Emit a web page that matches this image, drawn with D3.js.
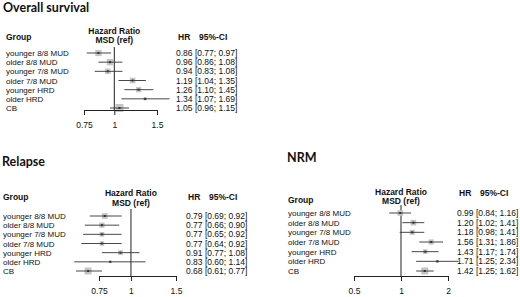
<!DOCTYPE html>
<html>
<head>
<meta charset="utf-8">
<script src="https://cdn.jsdelivr.net/npm/d3@7"></script>
<style>
  body { margin: 0; background: #fff; }
  svg text { font-family: "Liberation Sans", Arial, sans-serif; fill: #111; }
  .ttl { font-family: Lato, "Open Sans", sans-serif; font-weight: bold; }
  .hdr { font-weight: bold; }
</style>
</head>
<body>
<svg id="chart" width="520" height="297"></svg>
<script>
var groups = ["younger 8/8 MUD", "older 8/8 MUD", "younger 7/8 MUD", "older 7/8 MUD", "younger HRD", "older HRD", "CB"];

// hazard ratios with 95% CI
var os_hr = [0.86, 0.96, 0.94, 1.19, 1.26, 1.34, 1.05];
var os_lo = [0.77, 0.86, 0.83, 1.04, 1.10, 1.07, 0.96];
var os_hi = [0.97, 1.08, 1.08, 1.35, 1.45, 1.69, 1.15];

var rel_hr = [0.79, 0.77, 0.77, 0.77, 0.91, 0.83, 0.68];
var rel_lo = [0.69, 0.66, 0.65, 0.64, 0.77, 0.60, 0.61];
var rel_hi = [0.92, 0.90, 0.92, 0.92, 1.08, 1.14, 0.77];

var nrm_hr = [0.99, 1.20, 1.18, 1.56, 1.43, 1.71, 1.42];
var nrm_lo = [0.84, 1.02, 0.98, 1.31, 1.17, 1.25, 1.25];
var nrm_hi = [1.16, 1.41, 1.41, 1.86, 1.74, 2.34, 1.62];

var os_ticks = [0.75, 1, 1.5];
var rel_ticks = [0.75, 1, 1.5];
var nrm_ticks = [0.5, 1, 2];

var svg = d3.select("#chart");
var f2 = d3.format(".2f");

function forest(cfg) {
	var g = svg.append("g");
	var data = groups.map(function(name, i) {
		return {name: name, hr: cfg.hr[i], lo: cfg.lo[i], hi: cfg.hi[i]};
	});

	var x = d3.scaleLog()
		.domain([cfg.ticks[0], cfg.ticks[cfg.ticks.length - 1]])
		.range([cfg.x0, cfg.x1]);

	var y = d3.scalePoint()
		.domain(groups)
		.range([cfg.yTop, cfg.yBot]);

	// box side ~ precision (1 / width of log CI)
	var prec = data.map(d => 1 / (Math.log(d.hi) - Math.log(d.lo)));
	var box = d3.scaleLinear().domain([0, d3.max(prec)]).range([0, cfg.boxMax]);

	g.append("text").attr("class", "ttl")
		.attr("x", cfg.titleX).attr("y", cfg.titleY)
		.style("font-size", "12.5px")
		.text(cfg.title);

	g.append("text").attr("class", "hdr")
		.attr("x", cfg.labX).attr("y", cfg.hdrY)
		.style("font-size", "8.5px").text("Group");

	g.append("text").attr("class", "hdr")
		.attr("x", x(1)).attr("y", cfg.hrTitleY)
		.attr("text-anchor", "middle")
		.style("font-size", "8.5px").text("Hazard Ratio");
	g.append("text").attr("class", "hdr")
		.attr("x", x(1)).attr("y", cfg.hrTitleY + cfg.hrGap)
		.attr("text-anchor", "middle")
		.style("font-size", "8.5px").text("MSD (ref)");

	g.append("text").attr("class", "hdr")
		.attr("x", cfg.valX + 2).attr("y", cfg.valHdrY)
		.style("font-size", "8.5px").text("HR");
	g.append("text").attr("class", "hdr")
		.attr("x", cfg.valX + 23).attr("y", cfg.valHdrY)
		.style("font-size", "8.5px").text("95%-CI");

	// reference line at HR = 1
	g.append("line")
		.attr("x1", x(1)).attr("x2", x(1))
		.attr("y1", cfg.refTop).attr("y2", cfg.axisY)
		.attr("stroke", "#222").attr("stroke-width", 1);

	var rows = g.selectAll(".row").data(data).enter().append("g").attr("class", "row");

	rows.append("text")
		.attr("x", cfg.labX).attr("y", d => y(d.name) + 3)
		.style("font-size", "8px")
		.text(d => d.name);

	rows.append("rect")
		.attr("x", (d, i) => x(d.hr) - box(prec[i]) / 2)
		.attr("y", (d, i) => y(d.name) - box(prec[i]) / 2)
		.attr("width", (d, i) => box(prec[i]))
		.attr("height", (d, i) => box(prec[i]))
		.attr("fill", "#c4c4c4");

	rows.append("line")
		.attr("x1", d => x(d.lo)).attr("x2", d => x(d.hi))
		.attr("y1", d => y(d.name)).attr("y2", d => y(d.name))
		.attr("stroke", "#333").attr("stroke-width", 0.9);

	rows.append("rect")
		.attr("x", d => x(d.hr) - 1).attr("y", d => y(d.name) - 1)
		.attr("width", 2).attr("height", 2)
		.attr("fill", "#333");

	rows.append("text")
		.attr("x", cfg.valX).attr("y", d => y(d.name) + 3)
		.style("font-size", "8.5px")
		.text(d => f2(d.hr) + " [" + f2(d.lo) + "; " + f2(d.hi) + "]");

	var axis = g.append("g")
		.attr("transform", "translate(0," + cfg.axisY + ")")
		.call(d3.axisBottom(x).tickValues(cfg.ticks).tickFormat(d3.format("")).tickSize(5).tickPadding(7));
	axis.select(".domain").attr("stroke", "#222");
	axis.selectAll(".tick line").attr("stroke", "#222");
	axis.selectAll(".tick text")
		.style("font-size", "8.5px")
		.style("font-family", "'Liberation Sans', Arial, sans-serif")
		.attr("fill", "#111");
}

forest({title: "Overall survival", titleX: 3, titleY: 12,
	hr: os_hr, lo: os_lo, hi: os_hi, ticks: os_ticks,
	x0: 84, x1: 157, yTop: 53, yBot: 108, axisY: 110, refTop: 47,
	labX: 6, hdrY: 40, hrTitleY: 34, hrGap: 8.5, valX: 176, valHdrY: 40, boxMax: 8});

forest({title: "Relapse", titleX: 2, titleY: 166,
	hr: rel_hr, lo: rel_lo, hi: rel_hi, ticks: rel_ticks,
	x0: 99, x1: 176, yTop: 216, yBot: 271, axisY: 276, refTop: 209,
	labX: 3, hdrY: 200, hrTitleY: 196, hrGap: 9.5, valX: 186, valHdrY: 200, boxMax: 7});

forest({title: "NRM", titleX: 287, titleY: 162,
	hr: nrm_hr, lo: nrm_lo, hi: nrm_hi, ticks: nrm_ticks,
	x0: 354, x1: 448, yTop: 213, yBot: 271, axisY: 276, refTop: 205,
	labX: 288, hdrY: 203, hrTitleY: 195, hrGap: 8.5, valX: 457, valHdrY: 196, boxMax: 7});
</script>
</body>
</html>
